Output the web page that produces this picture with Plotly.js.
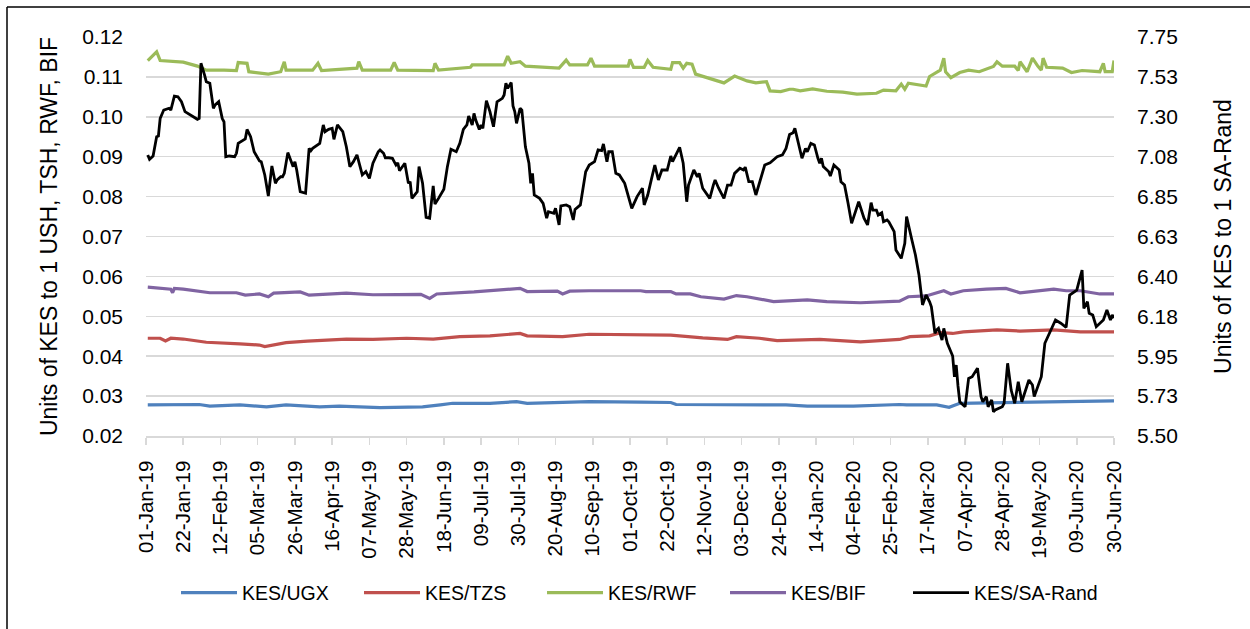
<!DOCTYPE html>
<html>
<head>
<meta charset="utf-8">
<script src="https://cdn.plot.ly/plotly-3.0.1.min.js"></script>
<style>
  html, body { margin: 0; padding: 0; background: #fff; }
  #chart { width: 1250px; height: 629px; }
</style>
</head>
<body>
<div id="chart"></div>
<script>
// Day offsets are counted from 01-Jan-2019 (day 0).
const startDate = '2019-01-01';

// KES/SA-Rand (right axis)
const saDays = [1,2,4,6,7,8,10,13,14,16,18,20,22,25,29,30,31,33,34,36,38,39,41,43,44,45,47,50,51,52,54,56,57,59,61,63,64,65,67,69,71,73,74,76,77,78,80,83,84,85,87,90,92,93,94,98,100,101,103,105,106,108,111,113,115,117,119,122,124,126,128,131,132,134,135,137,139,141,142,143,146,148,149,150,153,154,156,158,160,162,163,165,168,170,172,175,177,179,181,182,184,185,186,188,189,190,192,194,196,198,201,202,203,204,206,207,208,209,211,212,214,216,217,218,219,222,224,226,227,230,231,233,234,237,239,241,242,245,248,250,253,255,257,258,260,261,263,265,267,270,272,274,277,279,280,281,283,285,287,289,291,294,296,297,301,303,305,306,309,311,312,314,316,318,320,321,323,326,328,330,332,335,337,338,340,342,344,347,349,352,356,359,361,363,365,366,368,370,372,373,375,377,379,380,381,382,385,386,388,391,392,394,396,398,402,405,407,409,410,412,413,415,416,418,419,420,422,423,426,428,429,432,434,436,438,439,440,442,443,445,446,447,449,450,452,454,455,456,457,458,459,462,464,466,469,471,472,474,475,477,478,479,483,484,486,488,490,492,494,498,500,501,505,507,510,513,516,519,521,525,526,528,529,531,532,534,536,540,541,542,544,545,546];
const saValues = [7.085,7.060,7.079,7.188,7.192,7.291,7.338,7.348,7.338,7.417,7.413,7.385,7.329,7.310,7.286,7.291,7.602,7.536,7.498,7.489,7.348,7.367,7.385,7.291,7.272,7.075,7.079,7.075,7.094,7.150,7.163,7.175,7.229,7.188,7.103,7.066,7.051,7.047,6.972,6.853,7.023,6.925,6.944,6.962,6.962,6.981,7.098,7.019,7.047,7.000,6.878,6.869,7.122,7.109,7.122,7.150,7.254,7.216,7.229,7.235,7.173,7.254,7.216,7.131,7.019,7.047,7.085,6.972,6.991,6.953,7.038,7.103,7.113,7.094,7.069,7.069,7.066,7.028,7.041,6.996,7.038,6.925,6.934,6.840,6.878,7.019,6.925,6.733,6.728,6.910,6.808,6.840,6.891,7.019,7.117,7.103,7.150,7.229,7.254,7.304,7.254,7.319,7.282,7.229,7.254,7.235,7.391,7.329,7.244,7.385,7.404,7.423,7.489,7.461,7.493,7.361,7.329,7.263,7.348,7.338,7.131,7.038,6.925,6.981,6.859,6.840,6.812,6.728,6.765,6.756,6.784,6.690,6.797,6.803,6.793,6.718,6.778,6.803,6.990,7.028,7.047,7.113,7.109,7.147,7.047,7.103,7.103,6.981,6.972,6.925,6.859,6.784,6.850,6.878,6.897,6.803,6.859,6.944,7.028,6.944,7.000,7.000,7.079,7.047,7.128,7.038,6.821,6.915,7.000,6.962,6.981,6.897,6.869,6.840,6.915,6.944,6.897,6.840,6.915,6.915,6.981,7.010,7.000,7.016,6.934,6.934,6.859,6.962,7.028,7.041,7.075,7.085,7.122,7.200,7.210,7.235,7.141,7.066,7.122,7.103,7.150,7.141,7.066,7.038,7.066,7.019,6.991,6.966,7.028,7.000,6.934,6.915,6.812,6.699,6.821,6.728,6.690,6.816,6.774,6.774,6.746,6.759,6.708,6.718,6.708,6.690,6.652,6.549,6.502,6.587,6.737,6.605,6.521,6.408,6.239,6.267,6.295,6.257,6.229,6.079,6.098,6.107,6.041,6.107,6.023,5.975,5.951,5.834,5.900,5.782,5.693,5.665,5.825,5.834,5.882,5.722,5.693,5.722,5.665,5.703,5.637,5.647,5.665,5.684,5.910,5.759,5.684,5.806,5.693,5.816,5.788,5.722,5.834,6.023,6.088,6.154,6.136,6.113,6.295,6.323,6.361,6.436,6.220,6.257,6.192,6.182,6.116,6.154,6.182,6.211,6.154,6.182,6.165];

// KES/RWF (left axis)
const rwfDays = [1,6,8,21,29,34,44,51,52,57,58,69,76,78,79,94,97,99,119,120,122,138,140,142,162,163,165,183,184,202,204,206,211,214,233,237,239,249,251,253,272,273,275,281,283,286,296,297,301,303,305,308,310,316,322,326,332,339,344,350,352,358,363,365,369,376,384,393,401,412,416,423,426,428,430,440,442,446,448,450,451,454,459,464,470,478,480,483,490,492,493,497,500,503,505,506,508,517,522,528,538,540,541,545,546];
const rwfValues = [0.1141,0.1163,0.1141,0.1137,0.1127,0.1117,0.1117,0.1116,0.1136,0.1134,0.1113,0.1107,0.1113,0.1138,0.1117,0.1117,0.1134,0.1116,0.1122,0.1138,0.1117,0.1117,0.1136,0.1117,0.1116,0.1134,0.1117,0.1124,0.1130,0.1130,0.1152,0.1134,0.1138,0.1127,0.1122,0.1142,0.1130,0.1130,0.1147,0.1127,0.1127,0.1144,0.1124,0.1124,0.1141,0.1124,0.1119,0.1136,0.1136,0.1122,0.1134,0.1132,0.1107,0.1099,0.1092,0.1085,0.1102,0.1090,0.1085,0.1088,0.1065,0.1063,0.1069,0.1069,0.1065,0.1070,0.1064,0.1062,0.1057,0.1059,0.1067,0.1065,0.1082,0.1069,0.1084,0.1077,0.1101,0.1113,0.1117,0.1147,0.1113,0.1098,0.1111,0.1117,0.1113,0.1126,0.1138,0.1127,0.1127,0.1116,0.1138,0.1113,0.1147,0.1127,0.1117,0.1147,0.1124,0.1122,0.1111,0.1116,0.1113,0.1134,0.1113,0.1113,0.1141];

// KES/BIF (left axis)
const bifDays = [1,14,15,16,21,36,51,56,64,69,72,87,92,113,128,155,160,164,185,205,211,215,232,235,239,250,279,282,296,299,307,313,326,333,339,354,373,384,403,425,430,440,450,454,461,474,485,493,512,519,527,538,546];
const bifValues = [0.0573,0.0568,0.0559,0.0570,0.0568,0.0559,0.0559,0.0553,0.0556,0.0549,0.0558,0.0561,0.0553,0.0558,0.0554,0.0555,0.0545,0.0556,0.0561,0.0568,0.0570,0.0562,0.0563,0.0556,0.0563,0.0564,0.0564,0.0562,0.0562,0.0556,0.0556,0.0549,0.0543,0.0552,0.0549,0.0537,0.0541,0.0537,0.0534,0.0538,0.0549,0.0551,0.0564,0.0556,0.0564,0.0568,0.0570,0.0559,0.0568,0.0564,0.0564,0.0556,0.0556];

// KES/TZS (left axis)
const tzsDays = [1,8,11,14,21,34,53,64,67,72,79,91,113,128,147,162,177,194,211,215,232,235,250,279,296,314,328,333,346,356,380,403,425,431,442,448,455,461,480,493,512,527,546];
const tzsValues = [0.0445,0.0445,0.0438,0.0445,0.0443,0.0435,0.0431,0.0428,0.0424,0.0428,0.0434,0.0438,0.0443,0.0442,0.0445,0.0443,0.0449,0.0451,0.0457,0.0451,0.0451,0.0449,0.0455,0.0455,0.0453,0.0446,0.0442,0.0449,0.0445,0.0439,0.0442,0.0436,0.0442,0.0449,0.0451,0.0459,0.0457,0.0461,0.0466,0.0463,0.0466,0.0461,0.0461];

// KES/UGX (left axis)
const ugxDays = [1,15,30,36,53,68,79,98,109,132,156,166,173,194,209,215,241,250,279,296,299,329,361,373,399,425,429,446,453,459,493,512,546];
const ugxValues = [0.0278,0.0279,0.0279,0.0275,0.0278,0.0273,0.0278,0.0273,0.0275,0.0271,0.0273,0.0278,0.0282,0.0282,0.0286,0.0282,0.0284,0.0286,0.0285,0.0284,0.0279,0.0278,0.0278,0.0275,0.0275,0.0279,0.0278,0.0278,0.0272,0.0282,0.0284,0.0286,0.0288];

const seriesNames = ['KES/UGX','KES/TZS','KES/RWF','KES/BIF','KES/SA-Rand'];
const seriesColors = ['#4f81bd','#c0504d','#9bbb59','#8064a2','#000000'];

const rightTickVals = [5.50,5.725,5.95,6.175,6.40,6.625,6.85,7.075,7.30,7.525,7.75];
const rightTickText = ['5.50','5.73','5.95','6.18','6.40','6.63','6.85','7.08','7.30','7.53','7.75'];

function toDates(days) {
  const base = Date.UTC(2019, 0, 1);
  return days.map(d => new Date(base + d * 86400000).toISOString().slice(0, 10));
}

const FONT = 'Liberation Sans, Arial, sans-serif';

function line(days, vals, i, yaxis, width) {
  return {
    type: 'scatter', mode: 'lines',
    x: toDates(days), y: vals,
    name: seriesNames[i], yaxis: yaxis,
    line: { color: seriesColors[i], width: width },
    hoverinfo: 'skip'
  };
}

const saTrace = line(saDays, saValues, 4, 'y2', 2.8);
saTrace.legendwidth = 140;

const traces = [
  line(ugxDays, ugxValues, 0, 'y', 3.2),
  line(tzsDays, tzsValues, 1, 'y', 3.2),
  line(rwfDays, rwfValues, 2, 'y', 3.2),
  line(bifDays, bifValues, 3, 'y', 3.2),
  saTrace
];

const layout = {
  width: 1250, height: 629,
  margin: { l: 146, r: 136, t: 37, b: 193 },
  paper_bgcolor: '#ffffff', plot_bgcolor: '#ffffff',
  font: { family: FONT, color: '#000000' },
  showlegend: true,
  legend: {
    orientation: 'h', x: 0.031, xanchor: 'left', y: -0.3935, yanchor: 'middle',
    font: { family: FONT, size: 19.5, color: '#000' },
    entrywidth: 112, itemwidth: 56,
    bgcolor: 'rgba(0,0,0,0)'
  },
  xaxis: {
    type: 'date',
    range: ['2019-01-01', '2020-06-30'],
    tick0: startDate, dtick: 21 * 86400000,
    tickformat: '%d-%b-%y', tickangle: -90,
    tickfont: { family: FONT, size: 20.5, color: '#000' },
    ticks: 'outside', ticklen: 7, tickcolor: '#d9d9d9', tickwidth: 1.5,
    showline: true, linecolor: '#d9d9d9', linewidth: 1.5,
    showgrid: false, zeroline: false, fixedrange: true,
    ticklabelstandoff: 8
  },
  yaxis: {
    range: [0.02, 0.12], dtick: 0.01, tick0: 0.02, tickformat: '.2f',
    tickfont: { family: FONT, size: 21, color: '#000' },
    showgrid: true, gridcolor: '#d9d9d9', gridwidth: 1.5,
    zeroline: false, showline: false, ticks: '',
    ticklabelstandoff: 22,
    title: { text: 'Units of KES to 1 USH, TSH, RWF, BIF', font: { family: FONT, size: 23, color: '#000' }, standoff: 18 },
    automargin: false
  },
  yaxis2: {
    overlaying: 'y', side: 'right',
    range: [5.5, 7.75],
    tickvals: rightTickVals, ticktext: rightTickText,
    tickfont: { family: FONT, size: 21, color: '#000' },
    showgrid: false, zeroline: false, showline: false, ticks: '',
    ticklabelstandoff: 22,
    title: { text: 'Units of KES to 1 SA-Rand', font: { family: FONT, size: 23, color: '#000' }, standoff: 38 },
    automargin: false
  },
  shapes: [
    { type: 'line', xref: 'paper', yref: 'paper', x0: (7 - 146) / 968, x1: (7 - 146) / 968, y0: (436 - 7) / 399, y1: (436 - 640) / 399, line: { color: '#000', width: 1.5 } },
    { type: 'line', xref: 'paper', yref: 'paper', x0: (7 - 146) / 968, x1: (1260 - 146) / 968, y0: (436 - 7) / 399, y1: (436 - 7) / 399, line: { color: '#000', width: 1.5 } }
  ]
};

Plotly.newPlot('chart', traces, layout, { staticPlot: true, displayModeBar: false });
</script>
</body>
</html>
